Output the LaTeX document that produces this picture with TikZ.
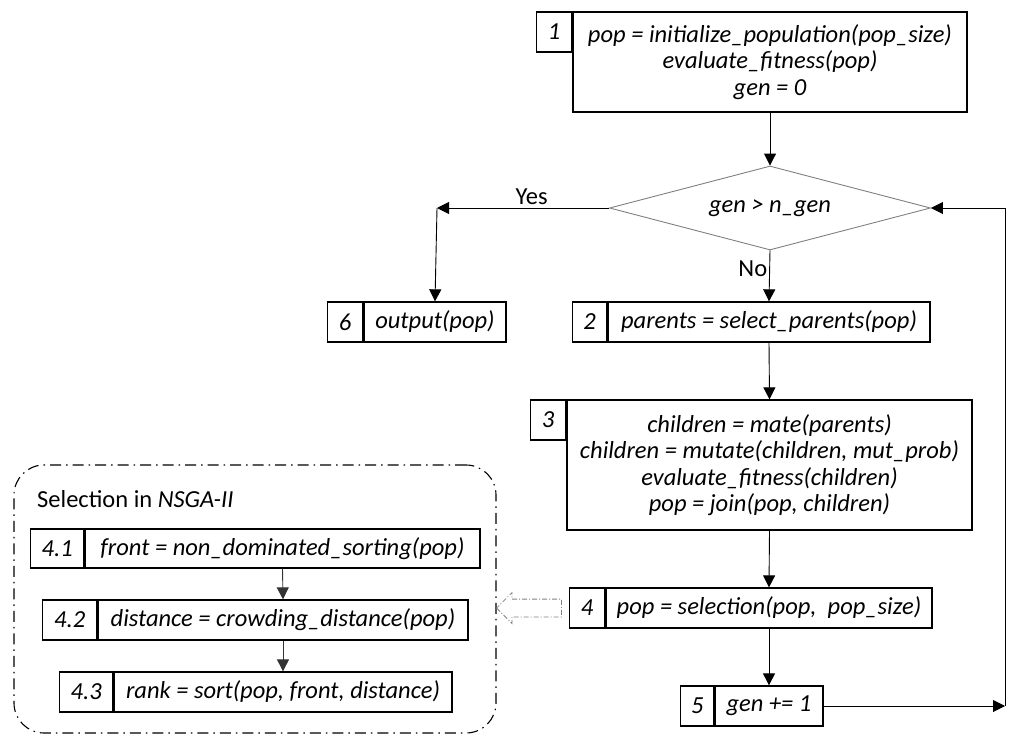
\documentclass[tikz,border=0pt]{standalone}
\usepackage{fontspec}
\setmainfont{Carlito}
\usetikzlibrary{shapes.geometric, shapes.arrows, arrows.meta, positioning, calc}

\newcommand{\flowfont}{\fontsize{24.5}{26.5}\selectfont}
\tikzset{
  codebox/.style={draw, line width=1.3pt, minimum height=40pt, inner sep=2pt, align=center, font=\flowfont\itshape},
  numbox/.style={draw, line width=1.3pt, minimum height=40pt, inner sep=0pt, anchor=north east, font=\flowfont\itshape},
  decision/.style={diamond, aspect=3.8, draw=gray, line width=0.9pt, inner sep=0pt, minimum width=321pt, minimum height=84pt, font=\flowfont\itshape},
  flow/.style={-{Triangle[length=12pt,width=12pt]}, line width=0.9pt},
  groupbox/.style={draw, line width=1.1pt, rounded corners=30pt, dash pattern=on 11pt off 5pt on 1.5pt off 5pt},
}

\begin{document}
\begin{tikzpicture}[x=1pt, y=-1pt]
  \useasboundingbox (0,0) rectangle (1014,736);

  % main loop
  \node[codebox, minimum width=394pt, minimum height=100pt] (init) at (770,62) {pop = initialize\_population(pop\_size)\\ evaluate\_fitness(pop)\\ gen = 0};
  \node[numbox, minimum width=35pt] (n1) at (init.north west) {1};

  \node[decision] (check) at (770,208) {gen > n\_gen};

  \node[codebox, minimum width=322pt] (select) at (769,322) {parents = select\_parents(pop)};
  \node[numbox, minimum width=34pt] (n2) at (select.north west) {2};

  \node[codebox, minimum width=405pt, minimum height=130pt] (mate) at (769.5,465) {children = mate(parents)\\ children = mutate(children, mut\_prob)\\ evaluate\_fitness(children)\\ pop = join(pop, children)};
  \node[numbox, minimum width=35pt] (n3) at (mate.north west) {3};

  \node[codebox, minimum width=326pt] (survive) at (769,608) {pop = selection(pop, \ pop\_size)};
  \node[numbox, minimum width=35pt] (n4) at (survive.north west) {4};

  \node[codebox, minimum width=108pt] (inc) at (769,706) {gen += 1};
  \node[numbox, minimum width=33pt] (n5) at (inc.north west) {5};

  \node[codebox, minimum width=142pt] (out) at (435,322) {output(pop)};
  \node[numbox, minimum width=35pt] (n6) at (out.north west) {6};

  \coordinate (yescorner) at (437,208);
  \coordinate (loopcorner) at (1005,706);

  \draw[flow] (init.south) -- (check.north);
  \draw[flow] (check.south) -- node[left, pos=0.35, inner sep=2pt, font=\flowfont] (no) {No} (select.north);
  \draw[flow] (check.west) -- node[above, pos=0.45, font=\flowfont] (yes) {Yes} (yescorner);
  \draw[flow] (yescorner) -- (out.north);
  \draw[flow] (select.south) -- (mate.north);
  \draw[flow] (mate.south) -- (survive.north);
  \draw[flow] (survive.south) -- (inc.north);
  \draw[flow] (inc.east) -- (loopcorner);
  \draw[flow] (loopcorner) |- (check.east);

  % selection in NSGA-II
  \node[groupbox, minimum width=482pt, minimum height=268pt] (nsga) at (255,599) {};
  \node[anchor=west, inner sep=0pt, font=\flowfont] (nsgatitle) at (37,499) {Selection in \textit{NSGA-II}};

  \node[codebox, minimum width=395pt, minimum height=39pt] (front) at (282.5,548.5) {front = non\_dominated\_sorting(pop)};
  \node[numbox, minimum width=53pt, minimum height=39pt] (n41) at (front.north west) {4.1};

  \node[codebox, minimum width=370pt] (crowd) at (283,620) {distance = crowding\_distance(pop)};
  \node[numbox, minimum width=54pt] (n42) at (crowd.north west) {4.2};

  \node[codebox, minimum width=338pt] (rank) at (283,692) {rank = sort(pop, front, distance)};
  \node[numbox, minimum width=53pt] (n43) at (rank.north west) {4.3};

  \draw[flow, draw=black!80] (front.south) -- (crowd.north);
  \draw[flow, draw=black!80] (crowd.south) -- (rank.north);

  \node[single arrow, draw=gray, line width=0.8pt, dash pattern=on 5pt off 2pt on 1pt off 2pt, shape border rotate=180, inner xsep=0pt, inner ysep=8.5pt, single arrow head extend=6.5pt, minimum height=65pt] (hint) at (533.5,608) {};
\end{tikzpicture}
\end{document}
